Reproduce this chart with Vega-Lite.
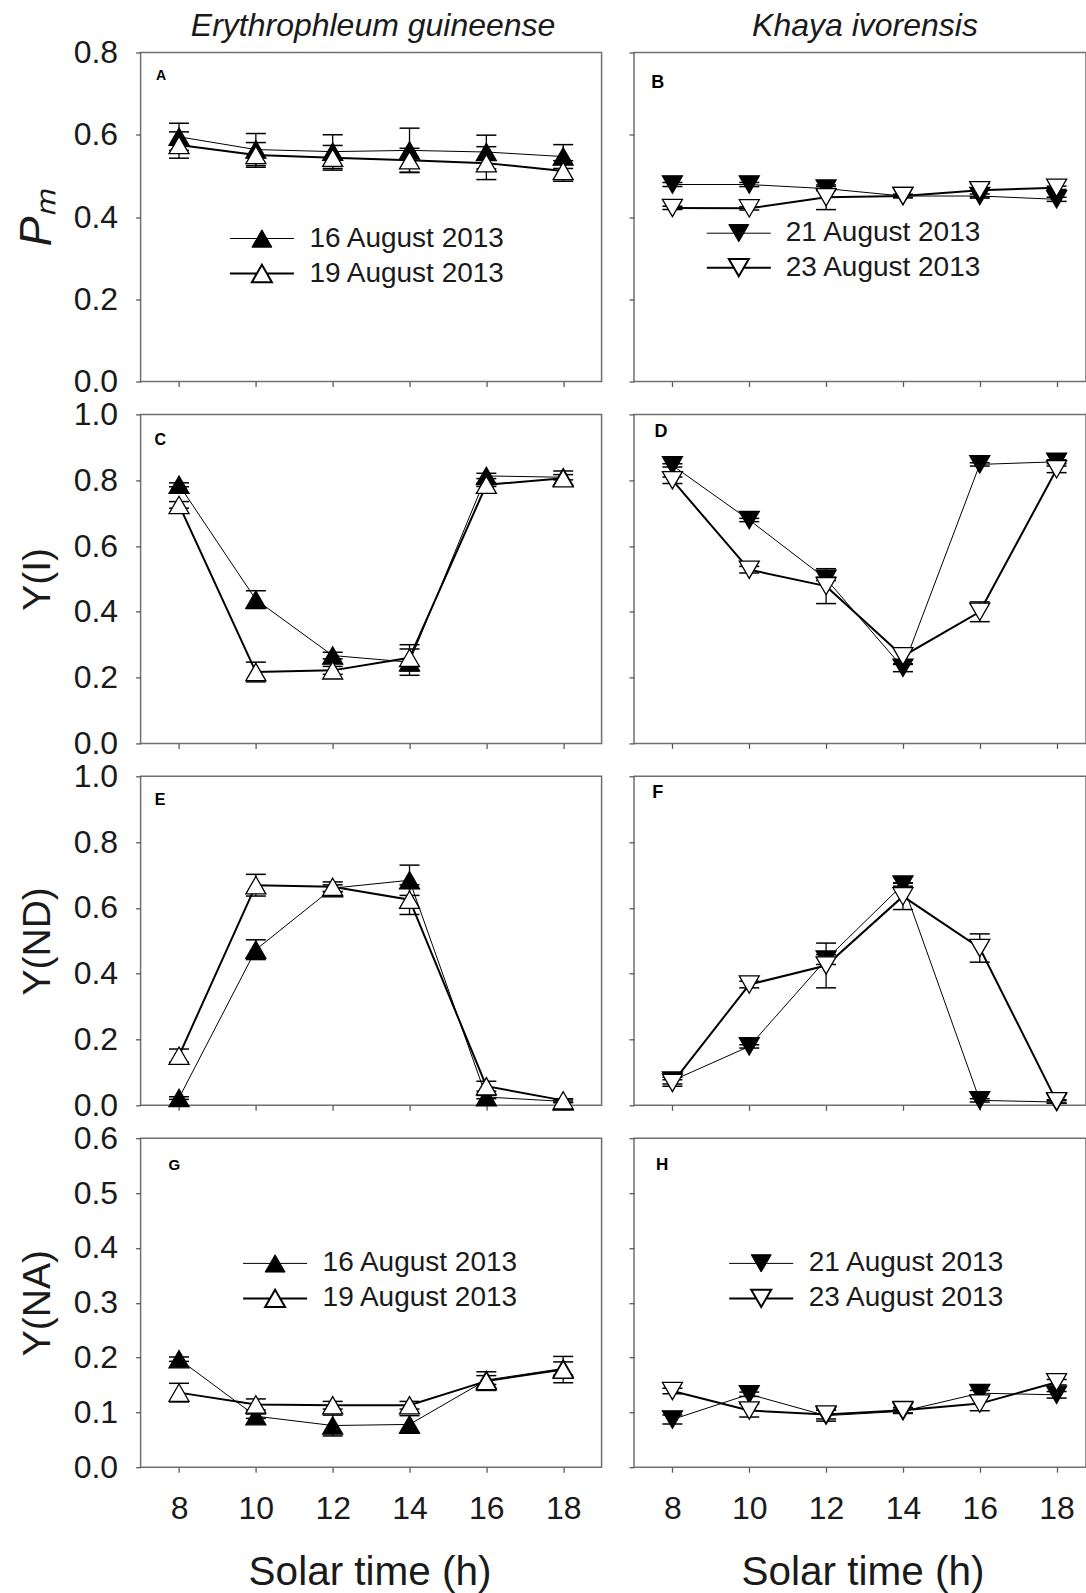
{
  "$schema": "https://vega.github.io/schema/vega-lite/v6.json",
  "background": "white",
  "padding": {"left": 12.6, "top": 8.5, "right": 0, "bottom": 0},
  "datasets": {
    "A": [
      {"date": "16 August 2013", "t": 8, "v": 0.595, "lo": 0.562, "hi": 0.628},
      {"date": "16 August 2013", "t": 10, "v": 0.564, "lo": 0.525, "hi": 0.603},
      {"date": "16 August 2013", "t": 12, "v": 0.559, "lo": 0.518, "hi": 0.600},
      {"date": "16 August 2013", "t": 14, "v": 0.562, "lo": 0.508, "hi": 0.616},
      {"date": "16 August 2013", "t": 16, "v": 0.558, "lo": 0.517, "hi": 0.599},
      {"date": "16 August 2013", "t": 18, "v": 0.547, "lo": 0.518, "hi": 0.576},
      {"date": "19 August 2013", "t": 8, "v": 0.575, "lo": 0.543, "hi": 0.607},
      {"date": "19 August 2013", "t": 10, "v": 0.551, "lo": 0.521, "hi": 0.581},
      {"date": "19 August 2013", "t": 12, "v": 0.544, "lo": 0.514, "hi": 0.574},
      {"date": "19 August 2013", "t": 14, "v": 0.538, "lo": 0.509, "hi": 0.567},
      {"date": "19 August 2013", "t": 16, "v": 0.531, "lo": 0.491, "hi": 0.571},
      {"date": "19 August 2013", "t": 18, "v": 0.512, "lo": 0.487, "hi": 0.537}
    ],
    "B": [
      {"date": "21 August 2013", "t": 8, "v": 0.479, "lo": 0.474, "hi": 0.484},
      {"date": "21 August 2013", "t": 10, "v": 0.479, "lo": 0.474, "hi": 0.484},
      {"date": "21 August 2013", "t": 12, "v": 0.469, "lo": 0.464, "hi": 0.474},
      {"date": "21 August 2013", "t": 14, "v": 0.451, "lo": 0.447, "hi": 0.455},
      {"date": "21 August 2013", "t": 16, "v": 0.451, "lo": 0.446, "hi": 0.456},
      {"date": "21 August 2013", "t": 18, "v": 0.443, "lo": 0.438, "hi": 0.448},
      {"date": "23 August 2013", "t": 8, "v": 0.422, "lo": 0.418, "hi": 0.426},
      {"date": "23 August 2013", "t": 10, "v": 0.421, "lo": 0.417, "hi": 0.425},
      {"date": "23 August 2013", "t": 12, "v": 0.448, "lo": 0.418, "hi": 0.478},
      {"date": "23 August 2013", "t": 14, "v": 0.451, "lo": 0.447, "hi": 0.455},
      {"date": "23 August 2013", "t": 16, "v": 0.465, "lo": 0.449, "hi": 0.481},
      {"date": "23 August 2013", "t": 18, "v": 0.471, "lo": 0.467, "hi": 0.475}
    ],
    "C": [
      {"date": "16 August 2013", "t": 8, "v": 0.786, "lo": 0.780, "hi": 0.792},
      {"date": "16 August 2013", "t": 10, "v": 0.437, "lo": 0.410, "hi": 0.464},
      {"date": "16 August 2013", "t": 12, "v": 0.267, "lo": 0.257, "hi": 0.277},
      {"date": "16 August 2013", "t": 14, "v": 0.247, "lo": 0.207, "hi": 0.287},
      {"date": "16 August 2013", "t": 16, "v": 0.813, "lo": 0.805, "hi": 0.821},
      {"date": "16 August 2013", "t": 18, "v": 0.809, "lo": 0.801, "hi": 0.817},
      {"date": "19 August 2013", "t": 8, "v": 0.725, "lo": 0.715, "hi": 0.735},
      {"date": "19 August 2013", "t": 10, "v": 0.217, "lo": 0.187, "hi": 0.247},
      {"date": "19 August 2013", "t": 12, "v": 0.222, "lo": 0.210, "hi": 0.234},
      {"date": "19 August 2013", "t": 14, "v": 0.260, "lo": 0.220, "hi": 0.300},
      {"date": "19 August 2013", "t": 16, "v": 0.786, "lo": 0.781, "hi": 0.791},
      {"date": "19 August 2013", "t": 18, "v": 0.806, "lo": 0.784, "hi": 0.828}
    ],
    "D": [
      {"date": "21 August 2013", "t": 8, "v": 0.845, "lo": 0.840, "hi": 0.850},
      {"date": "21 August 2013", "t": 10, "v": 0.679, "lo": 0.674, "hi": 0.684},
      {"date": "21 August 2013", "t": 12, "v": 0.500, "lo": 0.495, "hi": 0.505},
      {"date": "21 August 2013", "t": 14, "v": 0.230, "lo": 0.218, "hi": 0.242},
      {"date": "21 August 2013", "t": 16, "v": 0.848, "lo": 0.843, "hi": 0.853},
      {"date": "21 August 2013", "t": 18, "v": 0.856, "lo": 0.850, "hi": 0.862},
      {"date": "23 August 2013", "t": 8, "v": 0.800, "lo": 0.790, "hi": 0.810},
      {"date": "23 August 2013", "t": 10, "v": 0.528, "lo": 0.518, "hi": 0.538},
      {"date": "23 August 2013", "t": 12, "v": 0.478, "lo": 0.425, "hi": 0.531},
      {"date": "23 August 2013", "t": 14, "v": 0.265, "lo": 0.240, "hi": 0.290},
      {"date": "23 August 2013", "t": 16, "v": 0.400, "lo": 0.370, "hi": 0.430},
      {"date": "23 August 2013", "t": 18, "v": 0.833, "lo": 0.823, "hi": 0.843}
    ],
    "E": [
      {"date": "16 August 2013", "t": 8, "v": 0.022, "lo": 0.018, "hi": 0.026},
      {"date": "16 August 2013", "t": 10, "v": 0.473, "lo": 0.443, "hi": 0.503},
      {"date": "16 August 2013", "t": 12, "v": 0.660, "lo": 0.650, "hi": 0.670},
      {"date": "16 August 2013", "t": 14, "v": 0.684, "lo": 0.638, "hi": 0.730},
      {"date": "16 August 2013", "t": 16, "v": 0.025, "lo": 0.020, "hi": 0.030},
      {"date": "16 August 2013", "t": 18, "v": 0.012, "lo": 0.008, "hi": 0.016},
      {"date": "19 August 2013", "t": 8, "v": 0.151, "lo": 0.131, "hi": 0.171},
      {"date": "19 August 2013", "t": 10, "v": 0.669, "lo": 0.636, "hi": 0.702},
      {"date": "19 August 2013", "t": 12, "v": 0.664, "lo": 0.649, "hi": 0.679},
      {"date": "19 August 2013", "t": 14, "v": 0.625, "lo": 0.580, "hi": 0.670},
      {"date": "19 August 2013", "t": 16, "v": 0.058, "lo": 0.043, "hi": 0.073},
      {"date": "19 August 2013", "t": 18, "v": 0.015, "lo": 0.010, "hi": 0.020}
    ],
    "F": [
      {"date": "21 August 2013", "t": 8, "v": 0.075, "lo": 0.065, "hi": 0.085},
      {"date": "21 August 2013", "t": 10, "v": 0.179, "lo": 0.174, "hi": 0.184},
      {"date": "21 August 2013", "t": 12, "v": 0.443, "lo": 0.428, "hi": 0.458},
      {"date": "21 August 2013", "t": 14, "v": 0.671, "lo": 0.666, "hi": 0.676},
      {"date": "21 August 2013", "t": 16, "v": 0.015, "lo": 0.010, "hi": 0.020},
      {"date": "21 August 2013", "t": 18, "v": 0.010, "lo": 0.006, "hi": 0.014},
      {"date": "23 August 2013", "t": 8, "v": 0.068, "lo": 0.058, "hi": 0.078},
      {"date": "23 August 2013", "t": 10, "v": 0.367, "lo": 0.357, "hi": 0.377},
      {"date": "23 August 2013", "t": 12, "v": 0.425, "lo": 0.357, "hi": 0.493},
      {"date": "23 August 2013", "t": 14, "v": 0.635, "lo": 0.595, "hi": 0.675},
      {"date": "23 August 2013", "t": 16, "v": 0.478, "lo": 0.435, "hi": 0.521},
      {"date": "23 August 2013", "t": 18, "v": 0.012, "lo": 0.007, "hi": 0.017}
    ],
    "G": [
      {"date": "16 August 2013", "t": 8, "v": 0.197, "lo": 0.193, "hi": 0.201},
      {"date": "16 August 2013", "t": 10, "v": 0.093, "lo": 0.089, "hi": 0.097},
      {"date": "16 August 2013", "t": 12, "v": 0.076, "lo": 0.057, "hi": 0.095},
      {"date": "16 August 2013", "t": 14, "v": 0.078, "lo": 0.062, "hi": 0.094},
      {"date": "16 August 2013", "t": 16, "v": 0.159, "lo": 0.151, "hi": 0.167},
      {"date": "16 August 2013", "t": 18, "v": 0.180, "lo": 0.168, "hi": 0.192},
      {"date": "19 August 2013", "t": 8, "v": 0.136, "lo": 0.119, "hi": 0.153},
      {"date": "19 August 2013", "t": 10, "v": 0.1145, "lo": 0.1045, "hi": 0.1245},
      {"date": "19 August 2013", "t": 12, "v": 0.113, "lo": 0.106, "hi": 0.120},
      {"date": "19 August 2013", "t": 14, "v": 0.113, "lo": 0.106, "hi": 0.120},
      {"date": "19 August 2013", "t": 16, "v": 0.157, "lo": 0.140, "hi": 0.174},
      {"date": "19 August 2013", "t": 18, "v": 0.178, "lo": 0.154, "hi": 0.202}
    ],
    "H": [
      {"date": "21 August 2013", "t": 8, "v": 0.087, "lo": 0.079, "hi": 0.095},
      {"date": "21 August 2013", "t": 10, "v": 0.133, "lo": 0.129, "hi": 0.137},
      {"date": "21 August 2013", "t": 12, "v": 0.094, "lo": 0.084, "hi": 0.104},
      {"date": "21 August 2013", "t": 14, "v": 0.102, "lo": 0.098, "hi": 0.106},
      {"date": "21 August 2013", "t": 16, "v": 0.135, "lo": 0.130, "hi": 0.140},
      {"date": "21 August 2013", "t": 18, "v": 0.132, "lo": 0.126, "hi": 0.138},
      {"date": "23 August 2013", "t": 8, "v": 0.139, "lo": 0.134, "hi": 0.144},
      {"date": "23 August 2013", "t": 10, "v": 0.1035, "lo": 0.0915, "hi": 0.1155},
      {"date": "23 August 2013", "t": 12, "v": 0.096, "lo": 0.088, "hi": 0.104},
      {"date": "23 August 2013", "t": 14, "v": 0.104, "lo": 0.099, "hi": 0.109},
      {"date": "23 August 2013", "t": 16, "v": 0.116, "lo": 0.103, "hi": 0.129},
      {"date": "23 August 2013", "t": 18, "v": 0.155, "lo": 0.150, "hi": 0.160}
    ]
  },
  "columns": 2,
  "spacing": {"row": 32.9, "column": 32.4},
  "bounds": "flush",
  "resolve": {"scale": {"fill": "independent", "strokeWidth": "independent", "x": "independent", "y": "independent"}, "legend": {"fill": "independent", "strokeWidth": "independent"}},
  "concat": [
    {
      "width": 461, "height": 329,
      "title": {"text": "Erythrophleum guineense", "frame": "group", "anchor": "middle", "baseline": "alphabetic", "offset": -31.7, "dx": 2, "fontSize": 32, "fontStyle": "italic", "fontWeight": "normal", "font": "Liberation Sans", "color": "#1a1a1a"},
      "data": {"name": "A"},
      "layer": [
        {"mark": {"type": "line", "color": "black"},
         "encoding": {
           "x": {"field": "t", "type": "quantitative", "scale": {"domain": [7, 19], "nice": false, "zero": false}, "axis": {"values": [8, 10, 12, 14, 16, 18], "labels": false, "title": null}},
           "y": {"field": "v", "type": "quantitative", "scale": {"domain": [0, 0.8], "nice": false, "zero": false}, "axis": {"values": [0, 0.2, 0.4, 0.6, 0.8], "format": ".1f", "title": "Pₘ", "titleFontStyle": "italic", "titleFontSize": 45, "titleAngle": -90, "titleX": -90.5, "titleY": 165, "titleBaseline": "alphabetic", "titleAlign": "center"}},
           "strokeWidth": {"field": "date", "type": "ordinal", "scale": {"domain": ["16 August 2013", "19 August 2013"], "range": [1, 2]},
             "legend": {"orient": "none", "legendX": 107.3, "legendY": 172, "title": null, "symbolType": "M-3.2,0H-0.5M0.5,0H3.2M0,-0.866L1,0.866L-1,0.866Z", "symbolSize": 400, "symbolStrokeColor": "black", "symbolOpacity": 1, "labelFont": "Liberation Sans", "labelFontSize": 28, "labelColor": "#1a1a1a", "labelOffset": 33.5, "rowPadding": 7, "padding": 0, "labelLimit": 500}}
         }},
        {"mark": {"type": "rule", "color": "black", "strokeWidth": 1.3},
         "encoding": {"x": {"field": "t", "type": "quantitative"}, "y": {"field": "lo", "type": "quantitative"}, "y2": {"field": "hi"}}},
        {"mark": {"type": "tick", "orient": "horizontal", "color": "black", "size": 20, "thickness": 1.5, "opacity": 1},
         "encoding": {"x": {"field": "t", "type": "quantitative"}, "y": {"field": "hi", "type": "quantitative"}}},
        {"mark": {"type": "tick", "orient": "horizontal", "color": "black", "size": 20, "thickness": 1.5, "opacity": 1},
         "encoding": {"x": {"field": "t", "type": "quantitative"}, "y": {"field": "lo", "type": "quantitative"}}},
        {"mark": {"type": "point", "shape": "triangle-up", "size": 400, "filled": true, "stroke": "black", "strokeWidth": 1.3, "opacity": 1},
         "encoding": {"x": {"field": "t", "type": "quantitative"}, "y": {"field": "v", "type": "quantitative"},
           "fill": {"field": "date", "type": "ordinal", "scale": {"domain": ["16 August 2013", "19 August 2013"], "range": ["black", "white"]},
             "legend": {"orient": "none", "legendX": 107.3, "legendY": 172, "title": null, "symbolType": "M-3.2,0H-0.5M0.5,0H3.2M0,-0.866L1,0.866L-1,0.866Z", "symbolSize": 400, "symbolStrokeColor": "black", "symbolOpacity": 1, "labelFont": "Liberation Sans", "labelFontSize": 28, "labelColor": "#1a1a1a", "labelOffset": 33.5, "rowPadding": 7, "padding": 0, "labelLimit": 500}}}},
        {"data": {"values": [{}]},
         "mark": {"type": "text", "text": "A", "font": "Liberation Sans", "fontWeight": "bold", "fontSize": 14, "color": "black", "align": "center", "baseline": "middle"},
         "encoding": {"x": {"datum": 7.53, "type": "quantitative"}, "y": {"datum": 0.743, "type": "quantitative"}}}
      ]
    },
    {
      "width": 452, "height": 329,
      "title": {"text": "Khaya ivorensis", "frame": "group", "anchor": "middle", "baseline": "alphabetic", "offset": -16.5, "dx": 5, "fontSize": 32, "fontStyle": "italic", "fontWeight": "normal", "font": "Liberation Sans", "color": "#1a1a1a"},
      "data": {"name": "B"},
      "layer": [
        {"mark": {"type": "line", "color": "black"},
         "encoding": {
           "x": {"field": "t", "type": "quantitative", "scale": {"domain": [7, 18.765], "nice": false, "zero": false}, "axis": {"values": [8, 10, 12, 14, 16, 18], "labels": false, "title": null}},
           "y": {"field": "v", "type": "quantitative", "scale": {"domain": [0, 0.8], "nice": false, "zero": false}, "axis": {"values": [0, 0.2, 0.4, 0.6, 0.8], "labels": false, "title": null}},
           "strokeWidth": {"field": "date", "type": "ordinal", "scale": {"domain": ["21 August 2013", "23 August 2013"], "range": [1, 2]},
             "legend": {"orient": "none", "legendX": 90.8, "legendY": 166.7, "title": null, "symbolType": "M-3.2,0H-0.5M0.5,0H3.2M0,0.866L1,-0.866L-1,-0.866Z", "symbolSize": 400, "symbolStrokeColor": "black", "symbolOpacity": 1, "labelFont": "Liberation Sans", "labelFontSize": 28, "labelColor": "#1a1a1a", "labelOffset": 33, "rowPadding": 6.5, "padding": 0, "labelLimit": 500}}
         }},
        {"mark": {"type": "rule", "color": "black", "strokeWidth": 1.3},
         "encoding": {"x": {"field": "t", "type": "quantitative"}, "y": {"field": "lo", "type": "quantitative"}, "y2": {"field": "hi"}}},
        {"mark": {"type": "tick", "orient": "horizontal", "color": "black", "size": 20, "thickness": 1.5, "opacity": 1},
         "encoding": {"x": {"field": "t", "type": "quantitative"}, "y": {"field": "hi", "type": "quantitative"}}},
        {"mark": {"type": "tick", "orient": "horizontal", "color": "black", "size": 20, "thickness": 1.5, "opacity": 1},
         "encoding": {"x": {"field": "t", "type": "quantitative"}, "y": {"field": "lo", "type": "quantitative"}}},
        {"mark": {"type": "point", "shape": "triangle-down", "size": 400, "filled": true, "stroke": "black", "strokeWidth": 1.3, "opacity": 1},
         "encoding": {"x": {"field": "t", "type": "quantitative"}, "y": {"field": "v", "type": "quantitative"},
           "fill": {"field": "date", "type": "ordinal", "scale": {"domain": ["21 August 2013", "23 August 2013"], "range": ["black", "white"]},
             "legend": {"orient": "none", "legendX": 90.8, "legendY": 166.7, "title": null, "symbolType": "M-3.2,0H-0.5M0.5,0H3.2M0,0.866L1,-0.866L-1,-0.866Z", "symbolSize": 400, "symbolStrokeColor": "black", "symbolOpacity": 1, "labelFont": "Liberation Sans", "labelFontSize": 28, "labelColor": "#1a1a1a", "labelOffset": 33, "rowPadding": 6.5, "padding": 0, "labelLimit": 500}}}},
        {"data": {"values": [{}]},
         "mark": {"type": "text", "text": "B", "font": "Liberation Sans", "fontWeight": "bold", "fontSize": 18, "color": "black", "align": "center", "baseline": "middle"},
         "encoding": {"x": {"datum": 7.62, "type": "quantitative"}, "y": {"datum": 0.726, "type": "quantitative"}}}
      ]
    },
    {
      "width": 461, "height": 329,
      "data": {"name": "C"},
      "layer": [
        {"mark": {"type": "line", "color": "black"},
         "encoding": {
           "x": {"field": "t", "type": "quantitative", "scale": {"domain": [7, 19], "nice": false, "zero": false}, "axis": {"values": [8, 10, 12, 14, 16, 18], "labels": false, "title": null}},
           "y": {"field": "v", "type": "quantitative", "scale": {"domain": [0, 1], "nice": false, "zero": false}, "axis": {"values": [0, 0.2, 0.4, 0.6, 0.8, 1.0], "format": ".1f", "title": "Y(I)", "titleAngle": -90, "titleX": -91.5, "titleY": 164.5, "titleBaseline": "alphabetic", "titleAlign": "center"}},
           "strokeWidth": {"field": "date", "type": "ordinal", "scale": {"domain": ["16 August 2013", "19 August 2013"], "range": [1, 2]}, "legend": null}
         }},
        {"mark": {"type": "rule", "color": "black", "strokeWidth": 1.3},
         "encoding": {"x": {"field": "t", "type": "quantitative"}, "y": {"field": "lo", "type": "quantitative"}, "y2": {"field": "hi"}}},
        {"mark": {"type": "tick", "orient": "horizontal", "color": "black", "size": 20, "thickness": 1.5, "opacity": 1},
         "encoding": {"x": {"field": "t", "type": "quantitative"}, "y": {"field": "hi", "type": "quantitative"}}},
        {"mark": {"type": "tick", "orient": "horizontal", "color": "black", "size": 20, "thickness": 1.5, "opacity": 1},
         "encoding": {"x": {"field": "t", "type": "quantitative"}, "y": {"field": "lo", "type": "quantitative"}}},
        {"mark": {"type": "point", "shape": "triangle-up", "size": 400, "filled": true, "stroke": "black", "strokeWidth": 1.3, "opacity": 1},
         "encoding": {"x": {"field": "t", "type": "quantitative"}, "y": {"field": "v", "type": "quantitative"},
           "fill": {"field": "date", "type": "ordinal", "scale": {"domain": ["16 August 2013", "19 August 2013"], "range": ["black", "white"]}, "legend": null}}},
        {"data": {"values": [{}]},
         "mark": {"type": "text", "text": "C", "font": "Liberation Sans", "fontWeight": "bold", "fontSize": 16, "color": "black", "align": "center", "baseline": "middle"},
         "encoding": {"x": {"datum": 7.51, "type": "quantitative"}, "y": {"datum": 0.922, "type": "quantitative"}}}
      ]
    },
    {
      "width": 452, "height": 329,
      "data": {"name": "D"},
      "layer": [
        {"mark": {"type": "line", "color": "black"},
         "encoding": {
           "x": {"field": "t", "type": "quantitative", "scale": {"domain": [7, 18.765], "nice": false, "zero": false}, "axis": {"values": [8, 10, 12, 14, 16, 18], "labels": false, "title": null}},
           "y": {"field": "v", "type": "quantitative", "scale": {"domain": [0, 1], "nice": false, "zero": false}, "axis": {"values": [0, 0.2, 0.4, 0.6, 0.8, 1.0], "labels": false, "title": null}},
           "strokeWidth": {"field": "date", "type": "ordinal", "scale": {"domain": ["21 August 2013", "23 August 2013"], "range": [1, 2]}, "legend": null}
         }},
        {"mark": {"type": "rule", "color": "black", "strokeWidth": 1.3},
         "encoding": {"x": {"field": "t", "type": "quantitative"}, "y": {"field": "lo", "type": "quantitative"}, "y2": {"field": "hi"}}},
        {"mark": {"type": "tick", "orient": "horizontal", "color": "black", "size": 20, "thickness": 1.5, "opacity": 1},
         "encoding": {"x": {"field": "t", "type": "quantitative"}, "y": {"field": "hi", "type": "quantitative"}}},
        {"mark": {"type": "tick", "orient": "horizontal", "color": "black", "size": 20, "thickness": 1.5, "opacity": 1},
         "encoding": {"x": {"field": "t", "type": "quantitative"}, "y": {"field": "lo", "type": "quantitative"}}},
        {"mark": {"type": "point", "shape": "triangle-down", "size": 400, "filled": true, "stroke": "black", "strokeWidth": 1.3, "opacity": 1},
         "encoding": {"x": {"field": "t", "type": "quantitative"}, "y": {"field": "v", "type": "quantitative"},
           "fill": {"field": "date", "type": "ordinal", "scale": {"domain": ["21 August 2013", "23 August 2013"], "range": ["black", "white"]}, "legend": null}}},
        {"data": {"values": [{}]},
         "mark": {"type": "text", "text": "D", "font": "Liberation Sans", "fontWeight": "bold", "fontSize": 18, "color": "black", "align": "center", "baseline": "middle"},
         "encoding": {"x": {"datum": 7.70, "type": "quantitative"}, "y": {"datum": 0.946, "type": "quantitative"}}}
      ]
    },
    {
      "width": 461, "height": 329,
      "data": {"name": "E"},
      "layer": [
        {"mark": {"type": "line", "color": "black"},
         "encoding": {
           "x": {"field": "t", "type": "quantitative", "scale": {"domain": [7, 19], "nice": false, "zero": false}, "axis": {"values": [8, 10, 12, 14, 16, 18], "labels": false, "title": null}},
           "y": {"field": "v", "type": "quantitative", "scale": {"domain": [0, 1], "nice": false, "zero": false}, "axis": {"values": [0, 0.2, 0.4, 0.6, 0.8, 1.0], "format": ".1f", "title": "Y(ND)", "titleAngle": -90, "titleX": -91.5, "titleY": 164.5, "titleBaseline": "alphabetic", "titleAlign": "center"}},
           "strokeWidth": {"field": "date", "type": "ordinal", "scale": {"domain": ["16 August 2013", "19 August 2013"], "range": [1, 2]}, "legend": null}
         }},
        {"mark": {"type": "rule", "color": "black", "strokeWidth": 1.3},
         "encoding": {"x": {"field": "t", "type": "quantitative"}, "y": {"field": "lo", "type": "quantitative"}, "y2": {"field": "hi"}}},
        {"mark": {"type": "tick", "orient": "horizontal", "color": "black", "size": 20, "thickness": 1.5, "opacity": 1},
         "encoding": {"x": {"field": "t", "type": "quantitative"}, "y": {"field": "hi", "type": "quantitative"}}},
        {"mark": {"type": "tick", "orient": "horizontal", "color": "black", "size": 20, "thickness": 1.5, "opacity": 1},
         "encoding": {"x": {"field": "t", "type": "quantitative"}, "y": {"field": "lo", "type": "quantitative"}}},
        {"mark": {"type": "point", "shape": "triangle-up", "size": 400, "filled": true, "stroke": "black", "strokeWidth": 1.3, "opacity": 1},
         "encoding": {"x": {"field": "t", "type": "quantitative"}, "y": {"field": "v", "type": "quantitative"},
           "fill": {"field": "date", "type": "ordinal", "scale": {"domain": ["16 August 2013", "19 August 2013"], "range": ["black", "white"]}, "legend": null}}},
        {"data": {"values": [{}]},
         "mark": {"type": "text", "text": "E", "font": "Liberation Sans", "fontWeight": "bold", "fontSize": 16, "color": "black", "align": "center", "baseline": "middle"},
         "encoding": {"x": {"datum": 7.51, "type": "quantitative"}, "y": {"datum": 0.928, "type": "quantitative"}}}
      ]
    },
    {
      "width": 452, "height": 329,
      "data": {"name": "F"},
      "layer": [
        {"mark": {"type": "line", "color": "black"},
         "encoding": {
           "x": {"field": "t", "type": "quantitative", "scale": {"domain": [7, 18.765], "nice": false, "zero": false}, "axis": {"values": [8, 10, 12, 14, 16, 18], "labels": false, "title": null}},
           "y": {"field": "v", "type": "quantitative", "scale": {"domain": [0, 1], "nice": false, "zero": false}, "axis": {"values": [0, 0.2, 0.4, 0.6, 0.8, 1.0], "labels": false, "title": null}},
           "strokeWidth": {"field": "date", "type": "ordinal", "scale": {"domain": ["21 August 2013", "23 August 2013"], "range": [1, 2]}, "legend": null}
         }},
        {"mark": {"type": "rule", "color": "black", "strokeWidth": 1.3},
         "encoding": {"x": {"field": "t", "type": "quantitative"}, "y": {"field": "lo", "type": "quantitative"}, "y2": {"field": "hi"}}},
        {"mark": {"type": "tick", "orient": "horizontal", "color": "black", "size": 20, "thickness": 1.5, "opacity": 1},
         "encoding": {"x": {"field": "t", "type": "quantitative"}, "y": {"field": "hi", "type": "quantitative"}}},
        {"mark": {"type": "tick", "orient": "horizontal", "color": "black", "size": 20, "thickness": 1.5, "opacity": 1},
         "encoding": {"x": {"field": "t", "type": "quantitative"}, "y": {"field": "lo", "type": "quantitative"}}},
        {"mark": {"type": "point", "shape": "triangle-down", "size": 400, "filled": true, "stroke": "black", "strokeWidth": 1.3, "opacity": 1},
         "encoding": {"x": {"field": "t", "type": "quantitative"}, "y": {"field": "v", "type": "quantitative"},
           "fill": {"field": "date", "type": "ordinal", "scale": {"domain": ["21 August 2013", "23 August 2013"], "range": ["black", "white"]}, "legend": null}}},
        {"data": {"values": [{}]},
         "mark": {"type": "text", "text": "F", "font": "Liberation Sans", "fontWeight": "bold", "fontSize": 18, "color": "black", "align": "center", "baseline": "middle"},
         "encoding": {"x": {"datum": 7.62, "type": "quantitative"}, "y": {"datum": 0.95, "type": "quantitative"}}}
      ]
    },
    {
      "width": 461, "height": 329,
      "data": {"name": "G"},
      "layer": [
        {"mark": {"type": "line", "color": "black"},
         "encoding": {
           "x": {"field": "t", "type": "quantitative", "scale": {"domain": [7, 19], "nice": false, "zero": false}, "axis": {"values": [8, 10, 12, 14, 16, 18], "title": "Solar time (h)", "titleFontSize": 40.5, "titleBaseline": "alphabetic", "titleY": 117, "titleX": 229, "titleAlign": "center"}},
           "y": {"field": "v", "type": "quantitative", "scale": {"domain": [0, 0.6], "nice": false, "zero": false}, "axis": {"values": [0, 0.1, 0.2, 0.3, 0.4, 0.5, 0.6], "format": ".1f", "title": "Y(NA)", "titleAngle": -90, "titleX": -91.5, "titleY": 164.5, "titleBaseline": "alphabetic", "titleAlign": "center"}},
           "strokeWidth": {"field": "date", "type": "ordinal", "scale": {"domain": ["16 August 2013", "19 August 2013"], "range": [1, 2]},
             "legend": {"orient": "none", "legendX": 120.5, "legendY": 111.2, "title": null, "symbolType": "M-3.2,0H-0.5M0.5,0H3.2M0,-0.866L1,0.866L-1,0.866Z", "symbolSize": 400, "symbolStrokeColor": "black", "symbolOpacity": 1, "labelFont": "Liberation Sans", "labelFontSize": 28, "labelColor": "#1a1a1a", "labelOffset": 33.5, "rowPadding": 7, "padding": 0, "labelLimit": 500}}
         }},
        {"mark": {"type": "rule", "color": "black", "strokeWidth": 1.3},
         "encoding": {"x": {"field": "t", "type": "quantitative"}, "y": {"field": "lo", "type": "quantitative"}, "y2": {"field": "hi"}}},
        {"mark": {"type": "tick", "orient": "horizontal", "color": "black", "size": 20, "thickness": 1.5, "opacity": 1},
         "encoding": {"x": {"field": "t", "type": "quantitative"}, "y": {"field": "hi", "type": "quantitative"}}},
        {"mark": {"type": "tick", "orient": "horizontal", "color": "black", "size": 20, "thickness": 1.5, "opacity": 1},
         "encoding": {"x": {"field": "t", "type": "quantitative"}, "y": {"field": "lo", "type": "quantitative"}}},
        {"mark": {"type": "point", "shape": "triangle-up", "size": 400, "filled": true, "stroke": "black", "strokeWidth": 1.3, "opacity": 1},
         "encoding": {"x": {"field": "t", "type": "quantitative"}, "y": {"field": "v", "type": "quantitative"},
           "fill": {"field": "date", "type": "ordinal", "scale": {"domain": ["16 August 2013", "19 August 2013"], "range": ["black", "white"]},
             "legend": {"orient": "none", "legendX": 120.5, "legendY": 111.2, "title": null, "symbolType": "M-3.2,0H-0.5M0.5,0H3.2M0,-0.866L1,0.866L-1,0.866Z", "symbolSize": 400, "symbolStrokeColor": "black", "symbolOpacity": 1, "labelFont": "Liberation Sans", "labelFontSize": 28, "labelColor": "#1a1a1a", "labelOffset": 33.5, "rowPadding": 7, "padding": 0, "labelLimit": 500}}}},
        {"data": {"values": [{}]},
         "mark": {"type": "text", "text": "G", "font": "Liberation Sans", "fontWeight": "bold", "fontSize": 15, "color": "black", "align": "center", "baseline": "middle"},
         "encoding": {"x": {"datum": 7.88, "type": "quantitative"}, "y": {"datum": 0.551, "type": "quantitative"}}}
      ]
    },
    {
      "width": 452, "height": 329,
      "data": {"name": "H"},
      "layer": [
        {"mark": {"type": "line", "color": "black"},
         "encoding": {
           "x": {"field": "t", "type": "quantitative", "scale": {"domain": [7, 18.765], "nice": false, "zero": false}, "axis": {"values": [8, 10, 12, 14, 16, 18], "title": "Solar time (h)", "titleFontSize": 40.5, "titleBaseline": "alphabetic", "titleY": 117, "titleX": 228.5, "titleAlign": "center"}},
           "y": {"field": "v", "type": "quantitative", "scale": {"domain": [0, 0.6], "nice": false, "zero": false}, "axis": {"values": [0, 0.1, 0.2, 0.3, 0.4, 0.5, 0.6], "labels": false, "title": null}},
           "strokeWidth": {"field": "date", "type": "ordinal", "scale": {"domain": ["21 August 2013", "23 August 2013"], "range": [1, 2]},
             "legend": {"orient": "none", "legendX": 113.2, "legendY": 111.2, "title": null, "symbolType": "M-3.2,0H-0.5M0.5,0H3.2M0,0.866L1,-0.866L-1,-0.866Z", "symbolSize": 400, "symbolStrokeColor": "black", "symbolOpacity": 1, "labelFont": "Liberation Sans", "labelFontSize": 28, "labelColor": "#1a1a1a", "labelOffset": 33.5, "rowPadding": 7, "padding": 0, "labelLimit": 500}}
         }},
        {"mark": {"type": "rule", "color": "black", "strokeWidth": 1.3},
         "encoding": {"x": {"field": "t", "type": "quantitative"}, "y": {"field": "lo", "type": "quantitative"}, "y2": {"field": "hi"}}},
        {"mark": {"type": "tick", "orient": "horizontal", "color": "black", "size": 20, "thickness": 1.5, "opacity": 1},
         "encoding": {"x": {"field": "t", "type": "quantitative"}, "y": {"field": "hi", "type": "quantitative"}}},
        {"mark": {"type": "tick", "orient": "horizontal", "color": "black", "size": 20, "thickness": 1.5, "opacity": 1},
         "encoding": {"x": {"field": "t", "type": "quantitative"}, "y": {"field": "lo", "type": "quantitative"}}},
        {"mark": {"type": "point", "shape": "triangle-down", "size": 400, "filled": true, "stroke": "black", "strokeWidth": 1.3, "opacity": 1},
         "encoding": {"x": {"field": "t", "type": "quantitative"}, "y": {"field": "v", "type": "quantitative"},
           "fill": {"field": "date", "type": "ordinal", "scale": {"domain": ["21 August 2013", "23 August 2013"], "range": ["black", "white"]},
             "legend": {"orient": "none", "legendX": 113.2, "legendY": 111.2, "title": null, "symbolType": "M-3.2,0H-0.5M0.5,0H3.2M0,0.866L1,-0.866L-1,-0.866Z", "symbolSize": 400, "symbolStrokeColor": "black", "symbolOpacity": 1, "labelFont": "Liberation Sans", "labelFontSize": 28, "labelColor": "#1a1a1a", "labelOffset": 33.5, "rowPadding": 7, "padding": 0, "labelLimit": 500}}}},
        {"data": {"values": [{}]},
         "mark": {"type": "text", "text": "H", "font": "Liberation Sans", "fontWeight": "bold", "fontSize": 17, "color": "black", "align": "center", "baseline": "middle"},
         "encoding": {"x": {"datum": 7.73, "type": "quantitative"}, "y": {"datum": 0.551, "type": "quantitative"}}}
      ]
    }
  ],
  "config": {
    "font": "Liberation Sans",
    "view": {"stroke": "#707070", "strokeWidth": 1.5},
    "axis": {"grid": false, "domain": false, "tickColor": "#5a5a5a", "tickSize": 5, "tickWidth": 1.3, "labelFont": "Liberation Sans", "labelFontSize": 32, "labelColor": "#1a1a1a", "titleFont": "Liberation Sans", "titleFontSize": 39, "titleFontWeight": "normal", "titleColor": "#1a1a1a", "labelFlush": false, "labelOverlap": false},
    "axisY": {"labelPadding": 18},
    "axisX": {"labelPadding": 21}
  }
}
